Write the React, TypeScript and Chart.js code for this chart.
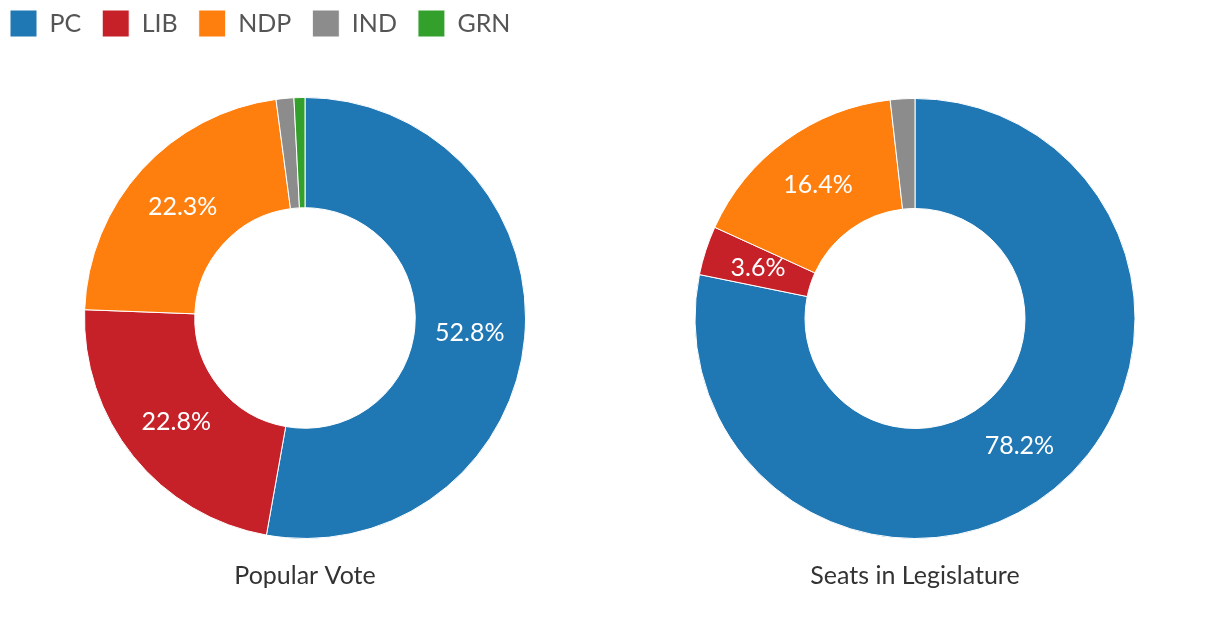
import React, { useEffect, useRef } from "react";
import { Chart, registerables } from "chart.js";

Chart.register(...registerables);

const parties = ["PC", "LIB", "NDP", "IND", "GRN"];
const partyColors = ["#1f77b4", "#c62028", "#ff7f0e", "#8c8c8c", "#33a02c"];
const popularVote = [52.8, 22.8, 22.3, 1.3, 0.8];
const seatsShare = [78.2, 3.6, 16.4, 1.8, 0];
const chartTitles = ["Popular Vote", "Seats in Legislature"];

const FONT = "Lato, 'Open Sans', sans-serif";

const sliceLabels = {
  id: "sliceLabels",
  afterDatasetsDraw(chart: any) {
    const ctx = chart.ctx;
    const meta = chart.getDatasetMeta(0);
    const data = chart.data.datasets[0].data as number[];
    ctx.save();
    ctx.fillStyle = "#ffffff";
    ctx.font = `25px ${FONT}`;
    ctx.textAlign = "center";
    ctx.textBaseline = "middle";
    meta.data.forEach((arc: any, i: number) => {
      const v = data[i];
      if (v < 3) return;
      const p = arc.tooltipPosition();
      ctx.fillText(v.toFixed(1) + "%", p.x, p.y);
    });
    ctx.restore();
  },
};

const legendSizer = {
  id: "legendSizer",
  beforeLayout(chart: any) {
    const lg = chart.legend;
    if (lg && !lg._sized) {
      lg._sized = true;
      const origFit = lg.fit;
      lg.fit = function () {
        origFit.call(this);
        if (this.options.display) this.height = 108;
      };
    }
  },
};

function DonutChart({ values, title, showLegend }: { values: number[]; title: string; showLegend: boolean }) {
  const ref = useRef<HTMLCanvasElement>(null);
  useEffect(() => {
    if (!ref.current) return;
    const chart = new Chart(ref.current, {
      type: "doughnut",
      data: {
        labels: parties,
        datasets: [
          {
            data: values,
            backgroundColor: partyColors,
            borderColor: "#ffffff",
            borderWidth: 1,
          },
        ],
      },
      options: {
        responsive: false,
        animation: false,
        cutout: "50%",
        layout: {
          padding: showLegend
            ? { top: -11, left: -11, right: -11, bottom: 0 }
            : { top: 98, left: 0, right: 0, bottom: 0 },
        },
        plugins: {
          legend: {
            display: showLegend,
            position: "top",
            align: "start",
            labels: {
              boxWidth: 27,
              boxHeight: 27,
              padding: 21,
              color: "#555555",
              font: { family: FONT, size: 25 },
            },
          },
          title: {
            display: true,
            text: title,
            position: "bottom",
            color: "#333333",
            font: { family: FONT, size: 25, weight: "normal" },
            padding: { top: 22, bottom: 27 },
          },
          tooltip: { enabled: false },
        },
      },
      plugins: [sliceLabels, legendSizer],
    });
    return () => chart.destroy();
  }, []);
  return <canvas ref={ref} width={610} height={618} style={{ display: "block", width: 610, height: 618 }} />;
}

export default function App() {
  return (
    <div style={{ position: "fixed", left: 0, top: 0, width: 1220, height: 618, display: "flex", background: "#ffffff" }}>
      <DonutChart values={popularVote} title={chartTitles[0]} showLegend={true} />
      <DonutChart values={seatsShare} title={chartTitles[1]} showLegend={false} />
    </div>
  );
}
